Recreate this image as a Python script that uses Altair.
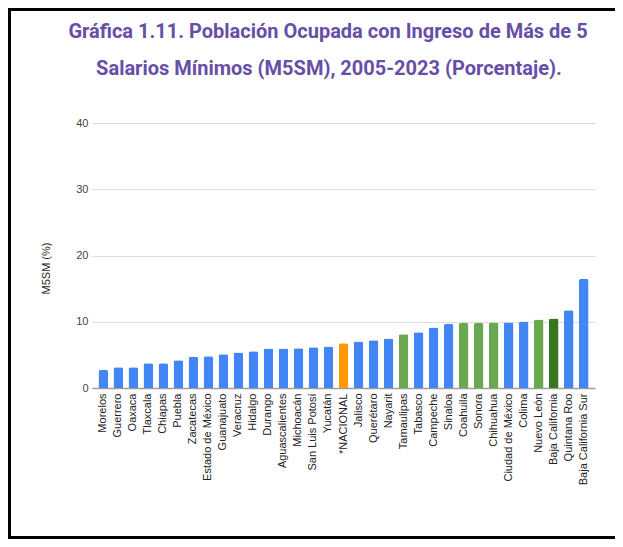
import altair as alt
import pandas as pd

estados = ["Morelos", "Guerrero", "Oaxaca", "Tlaxcala", "Chiapas", "Puebla", "Zacatecas",
           "Estado de México", "Guanajuato", "Veracruz", "Hidalgo", "Durango", "Aguascalientes",
           "Michoacán", "San Luis Potosí", "Yucatán", "*NACIONAL", "Jalisco", "Querétaro",
           "Nayarit", "Tamaulipas", "Tabasco", "Campeche", "Sinaloa", "Coahuila", "Sonora",
           "Chihuahua", "Ciudad de México", "Colima", "Nuevo León", "Baja California",
           "Quintana Roo", "Baja California Sur"]
m5sm = [2.73, 3.13, 3.13, 3.73, 3.73, 4.19, 4.7, 4.8, 5.1, 5.35, 5.56, 5.96, 5.96, 6.01, 6.16,
        6.26, 6.77, 7.02, 7.22, 7.47, 8.13, 8.43, 9.14, 9.65, 9.8, 9.8, 9.9, 9.9, 10.05, 10.35,
        10.5, 11.72, 16.46]
grupo = ["Estado"] * 16 + ["Nacional"] + ["Estado"] * 3 + ["Frontera"] + ["Estado"] * 3 + \
        ["Frontera", "Frontera", "Frontera", "Estado", "Estado", "Frontera", "Baja California",
         "Estado", "Estado"]
grupos = ["Estado", "Nacional", "Frontera", "Baja California"]
colores = ["#4285F4", "#FF9900", "#6AA84F", "#38761D"]
y_ticks = [0, 10, 20, 30, 40]
titulo = ["Gráfica 1.11. Población Ocupada con Ingreso de Más de 5",
          "Salarios Mínimos (M5SM), 2005-2023 (Porcentaje)."]

df = pd.DataFrame({"Estado": estados, "M5SM": m5sm, "Grupo": grupo})

W, H = 503, 265
PL, PT, PR, PB = 84, 115, 20, 151

bars = alt.Chart(df).mark_bar(cornerRadiusTopLeft=2, cornerRadiusTopRight=2).encode(
    x=alt.X("Estado:N", sort=estados, title=None,
            scale=alt.Scale(paddingInner=0.36, paddingOuter=0.43),
            axis=alt.Axis(labelAngle=-90, labelFont="Liberation Sans", labelFontSize=11,
                          labelColor="#222222", labelPadding=5, ticks=False,
                          domainColor="#9e9e9e", domainWidth=1.5, labelLimit=200)),
    y=alt.Y("M5SM:Q", title="M5SM (%)",
            scale=alt.Scale(domain=[0, 40], nice=False),
            axis=alt.Axis(values=y_ticks, ticks=False, domain=False, gridColor="#dddddd",
                          labelFont="Liberation Sans", labelFontSize=11, labelColor="#444444",
                          labelPadding=4, titleFont="Liberation Sans", titleFontSize=11,
                          titleFontWeight="normal", titleColor="#222222", titlePadding=24,
                          titleY=145)),
    color=alt.Color("Grupo:N", scale=alt.Scale(domain=grupos, range=colores), legend=None),
)

title_df = pd.DataFrame({"t": titulo, "linea": [0, 1]})
t1 = alt.Chart(title_df.iloc[[0]]).mark_text(
    font="Roboto", fontSize=20, fontWeight="bold", color="#674EA7", align="center",
    baseline="alphabetic").encode(text="t:N", x=alt.value(236), y=alt.value(38 - 123))
t2 = alt.Chart(title_df.iloc[[1]]).mark_text(
    font="Roboto", fontSize=20, fontWeight="bold", color="#674EA7", align="center",
    baseline="alphabetic").encode(text="t:N", x=alt.value(237), y=alt.value(75 - 123))

frame_df = pd.DataFrame({"k": ["l", "t", "b"]})
left = alt.Chart(frame_df.iloc[[0]]).mark_rule(color="black", strokeWidth=3).encode(
    x=alt.value(-PL + 1.5), y=alt.value(-PT), y2=alt.value(H + PB))
top = alt.Chart(frame_df.iloc[[1]]).mark_rule(color="black", strokeWidth=3).encode(
    x=alt.value(-PL), x2=alt.value(W + PR), y=alt.value(-PT + 1.5))
bottom = alt.Chart(frame_df.iloc[[2]]).mark_rule(color="black", strokeWidth=3).encode(
    x=alt.value(-PL), x2=alt.value(W + PR), y=alt.value(H + PB - 1.5))

chart = alt.layer(bars, t1, t2, left, top, bottom).properties(
    width=W, height=H,
    autosize=alt.AutoSizeParams(type="none"),
    padding={"left": PL, "top": PT, "right": PR, "bottom": PB},
).configure_view(stroke=None)

chart.save("out.html", embed_options={"renderer": "svg", "actions": False})
